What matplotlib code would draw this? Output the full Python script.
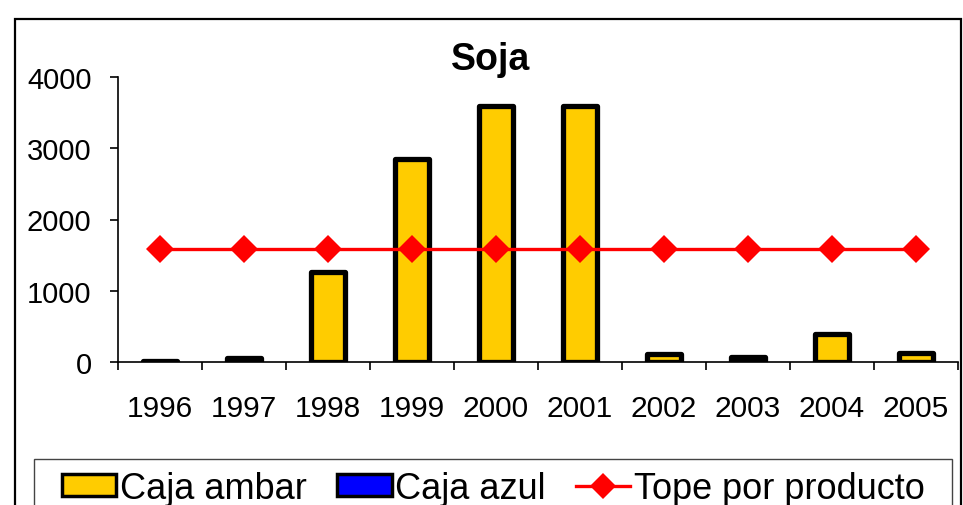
import numpy as np
import matplotlib.pyplot as plt
from matplotlib.patches import Rectangle, Patch
from matplotlib.lines import Line2D

plt.rcParams['font.family'] = ['Liberation Sans', 'DejaVu Sans']

# Datos
anios = ['1996', '1997', '1998', '1999', '2000', '2001', '2002', '2003', '2004', '2005']
caja_ambar = [15, 55, 1270, 2850, 3600, 3600, 110, 75, 395, 120]
caja_azul = [0, 0, 0, 0, 0, 0, 0, 0, 0, 0]
tope = [1590] * 10

W, H = 963, 506
fig = plt.figure(figsize=(W / 100, H / 100), dpi=100)

def fx(px):
    return px / W

def fy(py):
    return 1 - py / H

# marco exterior del gráfico
fig.patches.append(Rectangle((fx(15), fy(530)), fx(961) - fx(15), fy(20) - fy(530),
                             transform=fig.transFigure, fill=False,
                             edgecolor='black', linewidth=1.6))

ax = fig.add_axes([fx(118), fy(363), fx(958) - fx(118), fy(78) - fy(363)])
x = np.arange(len(anios))

ax.bar(x, caja_ambar, width=0.4, color='#FFCC00', edgecolor='black',
       linewidth=3.8, joinstyle='round', zorder=2)
ax.bar(x, caja_azul, bottom=caja_ambar, width=0.4, color='#0000FF',
       linewidth=0, zorder=1)
ax.plot(x, tope, color='#FF0000', linewidth=2.4, marker='D', markersize=14,
        markeredgewidth=0, zorder=3)

ax.set_xlim(-0.5, len(anios) - 0.5)
ax.set_ylim(0, 4000)
ax.set_yticks([0, 1000, 2000, 3000, 4000])
ax.set_xticks(x)
ax.set_xticklabels(anios)
ax.set_xticks(np.arange(-0.5, len(anios)), minor=True)
ax.tick_params(axis='x', which='major', length=0, pad=23, labelsize=21.5)
ax.tick_params(axis='x', which='minor', length=6, width=1.2, direction='out')
ax.tick_params(axis='y', length=6, width=1.2, pad=13, labelsize=21)

for s in ['top', 'right']:
    ax.spines[s].set_visible(False)
for s in ['left', 'bottom']:
    ax.spines[s].set_linewidth(1.2)

fig.text(fx(491), fy(70), 'Soja', ha='center', va='baseline',
         fontsize=27, fontweight='bold')

# leyenda (cortada por el borde inferior, como en el original)
fig.patches.append(Rectangle((fx(34), fy(530)), fx(952) - fx(34), fy(460) - fy(530),
                             transform=fig.transFigure, fill=False,
                             edgecolor='#444444', linewidth=1.0))
handles = [
    Patch(facecolor='#FFCC00', edgecolor='black', linewidth=2.5),
    Patch(facecolor='#0000FF', edgecolor='black', linewidth=2.5),
    Line2D([0], [0], color='#FF0000', linewidth=2.4, marker='D', markersize=13,
           markeredgewidth=0),
]
fig.legend(handles, ['Caja ambar', 'Caja azul', 'Tope por producto'],
           loc='upper left', bbox_to_anchor=(fx(62), fy(472)), ncol=3,
           frameon=False, fontsize=26, borderpad=0, borderaxespad=0,
           handlelength=1.5, handleheight=0.55, handletextpad=0.1,
           columnspacing=0.85)

fig.savefig('out.png', dpi=100)
